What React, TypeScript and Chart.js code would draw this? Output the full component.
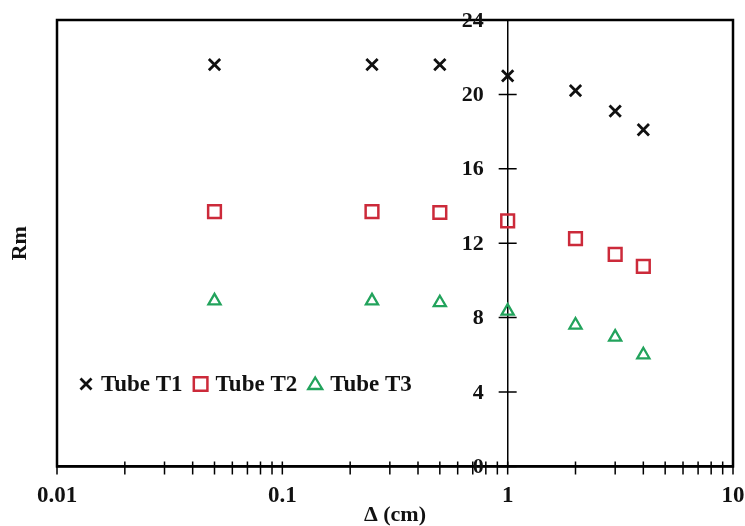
import React, { useEffect, useRef } from "react";
import { Chart, registerables } from "chart.js";

Chart.register(...registerables);

// Gap size Δ (cm) at which each tube was measured
const deltaCm = [0.05, 0.25, 0.5, 1, 2, 3, 4];

// Rm readings per tube
const tubeT1 = [21.6, 21.6, 21.6, 21.0, 20.2, 19.1, 18.1];
const tubeT2 = [13.7, 13.7, 13.65, 13.2, 12.25, 11.4, 10.75];
const tubeT3 = [8.9, 8.9, 8.8, 8.35, 7.6, 6.95, 6.0];

const seriesLabels = ["Tube T1", "Tube T2", "Tube T3"];

// Log-axis tick positions (decades plus minor steps) and the ones that get a label
const xTickValues = [
  0.01, 0.02, 0.03, 0.04, 0.05, 0.06, 0.07, 0.08, 0.09,
  0.1, 0.2, 0.3, 0.4, 0.5, 0.6, 0.7, 0.8, 0.9,
  1, 2, 3, 4, 5, 6, 7, 8, 9, 10,
];
const xLabelledTicks = [0.01, 0.1, 1, 10];
const yTickValues = [0, 4, 8, 12, 16, 20, 24];

const FONT = "'Liberation Serif', 'Times New Roman', serif";
const RED = "#cc2a3a";
const GREEN = "#22a35c";

// Frame around the plot area, tick marks that straddle both axes,
// and the Rm labels sitting to the left of the crossing axis at Δ = 1
const axesDecor = {
  id: "axesDecor",
  afterDraw(chart: any) {
    const { ctx, chartArea, scales } = chart;
    const xs = scales.x;
    const ys = scales.y;
    ctx.save();
    ctx.strokeStyle = "#000";
    ctx.lineWidth = 2.5;
    ctx.strokeRect(chartArea.left, chartArea.top, chartArea.right - chartArea.left, chartArea.bottom - chartArea.top);

    ctx.lineWidth = 1.5;
    ctx.beginPath();
    for (const t of xs.ticks) {
      const px = xs.getPixelForValue(t.value);
      ctx.moveTo(px, chartArea.bottom - 5);
      ctx.lineTo(px, chartArea.bottom + 8);
    }
    const axisX = xs.getPixelForValue(1);
    for (const t of ys.ticks) {
      const py = ys.getPixelForValue(t.value);
      ctx.moveTo(axisX - 9, py);
      ctx.lineTo(axisX + 9, py);
    }
    ctx.stroke();

    ctx.fillStyle = "#111";
    ctx.font = `bold 22px ${FONT}`;
    ctx.textAlign = "right";
    ctx.textBaseline = "middle";
    for (const t of ys.ticks) {
      const py = ys.getPixelForValue(t.value);
      ctx.fillText(String(t.value), axisX - 24, py + 1);
    }
    ctx.restore();
  },
};

// Single-row legend drawn inside the plot area
const inlineLegend = {
  id: "inlineLegend",
  afterDraw(chart: any, _args: any, opts: any) {
    const { ctx } = chart;
    ctx.save();
    ctx.font = `bold ${opts.fontSize}px ${FONT}`;
    ctx.textBaseline = "middle";
    ctx.textAlign = "left";
    let mx = opts.x;
    const y = opts.y;
    chart.data.datasets.forEach((ds: any) => {
      ctx.strokeStyle = ds.borderColor;
      ctx.lineWidth = ds.pointBorderWidth;
      ctx.beginPath();
      if (ds.pointStyle === "crossRot") {
        ctx.moveTo(mx - 5.5, y - 5.5);
        ctx.lineTo(mx + 5.5, y + 5.5);
        ctx.moveTo(mx + 5.5, y - 5.5);
        ctx.lineTo(mx - 5.5, y + 5.5);
      } else if (ds.pointStyle === "rect") {
        ctx.rect(mx - 6.8, y - 6.8, 13.6, 13.6);
      } else {
        ctx.moveTo(mx, y - 6.5);
        ctx.lineTo(mx + 7, y + 5);
        ctx.lineTo(mx - 7, y + 5);
        ctx.closePath();
      }
      ctx.stroke();
      ctx.fillStyle = "#111";
      const tx = mx + opts.textGap;
      ctx.fillText(ds.label, tx, y + 1);
      mx = tx + ctx.measureText(ds.label).width + opts.itemGap;
    });
    ctx.restore();
  },
};

export default function App() {
  const canvasRef = useRef<HTMLCanvasElement | null>(null);

  useEffect(() => {
    if (!canvasRef.current) return;
    const toPoints = (ys: number[]) => deltaCm.map((x, i) => ({ x, y: ys[i] }));

    const chart = new Chart(canvasRef.current, {
      type: "scatter",
      data: {
        datasets: [
          {
            label: seriesLabels[0],
            data: toPoints(tubeT1),
            yAxisID: "y",
            pointStyle: "crossRot",
            pointRadius: 8,
            borderColor: "#111",
            backgroundColor: "transparent",
            pointBorderWidth: 2.8,
          },
          {
            label: seriesLabels[1],
            data: toPoints(tubeT2),
            yAxisID: "y",
            pointStyle: "rect",
            pointRadius: 9,
            borderColor: RED,
            backgroundColor: "transparent",
            pointBorderWidth: 2.5,
          },
          {
            label: seriesLabels[2],
            data: toPoints(tubeT3),
            yAxisID: "y",
            pointStyle: "triangle",
            pointRadius: 7,
            borderColor: GREEN,
            backgroundColor: "transparent",
            pointBorderWidth: 2.3,
          },
        ] as any,
      },
      options: {
        responsive: false,
        animation: false,
        events: [],
        layout: { padding: { left: 0, right: 12, top: 20, bottom: 0 } },
        plugins: {
          legend: { display: false },
          tooltip: { enabled: false },
          inlineLegend: { x: 86, y: 384, fontSize: 23, textGap: 15, itemGap: 18 },
        } as any,
        scales: {
          x: {
            type: "logarithmic",
            position: "bottom",
            min: 0.01,
            max: 10,
            afterBuildTicks: (scale: any) => {
              scale.ticks = xTickValues.map((v) => ({ value: v, major: xLabelledTicks.includes(v) }));
            },
            afterFit: (scale: any) => {
              scale.paddingLeft = 0;
              scale.paddingRight = 0;
            },
            ticks: {
              autoSkip: false,
              maxRotation: 0,
              padding: 9,
              color: "#111",
              font: { family: FONT, size: 23, weight: "bold" },
              callback: (v: any) => (xLabelledTicks.includes(Number(v)) ? String(v) : ""),
            },
            grid: { display: true, drawOnChartArea: false, drawTicks: true, tickLength: 7, color: "transparent" },
            border: { display: true, color: "#000", width: 2.5 },
            title: {
              display: true,
              text: "Δ (cm)",
              color: "#111",
              font: { family: FONT, size: 22, weight: "bold", lineHeight: 1 },
              padding: { top: -15, bottom: 0 },
            },
          },
          y: {
            type: "linear",
            position: { x: 1 } as any,
            min: 0,
            max: 24,
            afterBuildTicks: (scale: any) => {
              scale.ticks = yTickValues.map((v) => ({ value: v }));
            },
            ticks: { display: false },
            grid: { display: true, drawOnChartArea: false, drawTicks: false, color: "transparent" },
            border: { display: true, color: "#000", width: 1.5 },
          },
          yTitle: {
            type: "linear",
            position: "left",
            min: 0,
            max: 24,
            ticks: { display: false },
            grid: { display: false, drawTicks: false, tickLength: 0 },
            border: { display: false },
            title: {
              display: true,
              text: "Rm",
              color: "#111",
              font: { family: FONT, size: 22, weight: "bold", lineHeight: 1.2 },
              padding: { top: 7, bottom: 23.6 },
            },
          },
        } as any,
      },
      plugins: [axesDecor, inlineLegend],
    });

    return () => chart.destroy();
  }, []);

  return (
    <div style={{ position: "fixed", left: 0, top: 0, width: 745, height: 526, background: "#fff" }}>
      <canvas ref={canvasRef} width={745} height={526} style={{ display: "block" }} />
    </div>
  );
}
